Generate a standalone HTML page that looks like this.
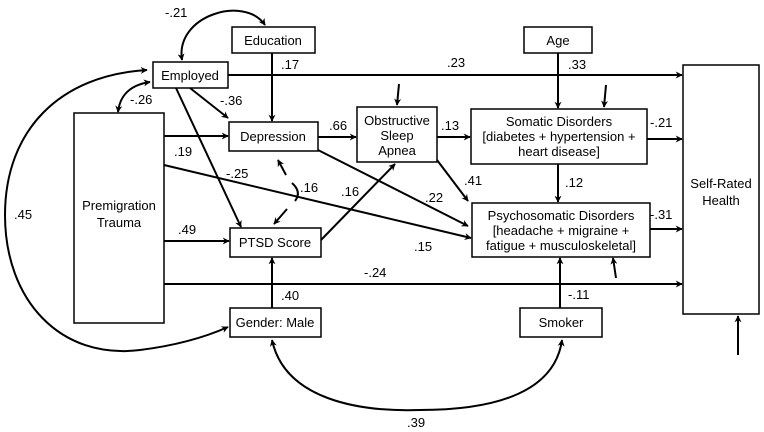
<!DOCTYPE html>
<html><head><meta charset="utf-8"><style>
html,body{margin:0;padding:0;background:#fff}
svg{display:block}
text{font-family:"Liberation Sans",Arial,sans-serif;font-size:13px;fill:#000}
</style></head><body>
<svg width="764" height="432" viewBox="0 0 764 432" xmlns="http://www.w3.org/2000/svg">
<defs>
<marker id="a" viewBox="0 0 10 10" refX="9" refY="5" markerWidth="7" markerHeight="7" orient="auto-start-reverse" markerUnits="userSpaceOnUse">
<path d="M0,0 L10,5 L0,10 L3,5 z" fill="#000"/></marker>
</defs>
<g fill="none" stroke="#000" stroke-width="2">
<!-- boxes -->
<rect x="232" y="27" width="83" height="26" stroke-width="1.5"/>
<rect x="153" y="62" width="75" height="26" stroke-width="1.5"/>
<rect x="524" y="27" width="68" height="26" stroke-width="1.5"/>
<rect x="74" y="113" width="90" height="210" stroke-width="1.5"/>
<rect x="229" y="122" width="89" height="29" stroke-width="1.5"/>
<rect x="357" y="107" width="80" height="55" stroke-width="1.5"/>
<rect x="471" y="109" width="176" height="55" stroke-width="1.5"/>
<rect x="472" y="203" width="178" height="54" stroke-width="1.5"/>
<rect x="230" y="228" width="91" height="29" stroke-width="1.5"/>
<rect x="230" y="308" width="91" height="29" stroke-width="1.5"/>
<rect x="520" y="308" width="82" height="29" stroke-width="1.5"/>
<rect x="683" y="65" width="76" height="249" stroke-width="1.5"/>
<!-- straight paths -->
<line x1="228" y1="75" x2="682" y2="75" marker-end="url(#a)"/>
<line x1="558" y1="53" x2="558" y2="108" marker-end="url(#a)"/>
<line x1="272" y1="53" x2="272" y2="121" marker-end="url(#a)"/>
<line x1="558" y1="164" x2="558" y2="202" marker-end="url(#a)"/>
<line x1="647" y1="139" x2="682" y2="139" marker-end="url(#a)"/>
<line x1="650" y1="229" x2="682" y2="229" marker-end="url(#a)"/>
<line x1="164" y1="284" x2="682" y2="284" marker-end="url(#a)"/>
<line x1="164" y1="136" x2="228" y2="136" marker-end="url(#a)"/>
<line x1="164" y1="241" x2="229" y2="241" marker-end="url(#a)"/>
<line x1="164" y1="165" x2="471" y2="238" marker-end="url(#a)"/>
<line x1="176" y1="88" x2="241" y2="227" marker-end="url(#a)"/>
<line x1="190" y1="88" x2="228" y2="118" marker-end="url(#a)"/>
<line x1="318" y1="137" x2="356" y2="137" marker-end="url(#a)"/>
<line x1="318" y1="150" x2="468" y2="226" marker-end="url(#a)"/>
<line x1="321" y1="240" x2="395" y2="164" marker-end="url(#a)"/>
<line x1="437" y1="137" x2="470" y2="137" marker-end="url(#a)"/>
<line x1="437" y1="160" x2="468" y2="201" marker-end="url(#a)"/>
<line x1="272" y1="308" x2="272" y2="258" marker-end="url(#a)"/>
<line x1="560" y1="308" x2="560" y2="258" marker-end="url(#a)"/>
<line x1="399" y1="84" x2="397" y2="105" marker-end="url(#a)"/>
<line x1="606" y1="85" x2="604" y2="107" marker-end="url(#a)"/>
<line x1="616" y1="278" x2="613" y2="258" marker-end="url(#a)"/>
<line x1="738" y1="355" x2="738" y2="316" marker-end="url(#a)"/>
<!-- curves -->
<path d="M286 175 L278 160" marker-end="url(#a)"/>
<path d="M292 183 Q302 192 295 201" />
<path d="M287 209 L274 224" marker-end="url(#a)"/>
<path d="M182 60 C175 15 245 -5 265 25" marker-start="url(#a)" marker-end="url(#a)"/>
<path d="M150 82 C130 85 120 95 118 112" marker-start="url(#a)" marker-end="url(#a)"/>
<path d="M147 70 C60 75 5 130 5 215 C5 300 60 360 140 350 C180 345 210 335 228 327" marker-start="url(#a)" marker-end="url(#a)"/>
<path d="M272 340 C285 400 360 412 420 410 C500 410 555 390 562 340" marker-start="url(#a)" marker-end="url(#a)"/>
</g>
<!-- box labels -->
<text x="273" y="45" text-anchor="middle">Education</text>
<text x="190" y="80" text-anchor="middle">Employed</text>
<text x="558" y="45" text-anchor="middle">Age</text>
<text x="119" y="210" text-anchor="middle">Premigration</text>
<text x="119" y="227" text-anchor="middle">Trauma</text>
<text x="273" y="141" text-anchor="middle">Depression</text>
<text x="397" y="125" text-anchor="middle">Obstructive</text>
<text x="397" y="140" text-anchor="middle">Sleep</text>
<text x="397" y="155" text-anchor="middle">Apnea</text>
<text x="559" y="126" text-anchor="middle">Somatic Disorders</text>
<text x="559" y="141" text-anchor="middle">[diabetes + hypertension +</text>
<text x="559" y="156" text-anchor="middle">heart disease]</text>
<text x="561" y="220" text-anchor="middle">Psychosomatic Disorders</text>
<text x="561" y="235" text-anchor="middle">[headache + migraine +</text>
<text x="561" y="250" text-anchor="middle">fatigue + musculoskeletal]</text>
<text x="275" y="247" text-anchor="middle">PTSD Score</text>
<text x="275" y="327" text-anchor="middle">Gender: Male</text>
<text x="561" y="327" text-anchor="middle">Smoker</text>
<text x="721" y="188" text-anchor="middle">Self-Rated</text>
<text x="721" y="205" text-anchor="middle">Health</text>
<!-- coefficients -->
<text x="165" y="17">-.21</text>
<text x="281" y="69">.17</text>
<text x="447" y="67">.23</text>
<text x="568" y="69">.33</text>
<text x="130" y="104">-.26</text>
<text x="220" y="105">-.36</text>
<text x="174" y="156">.19</text>
<text x="226" y="178">-.25</text>
<text x="329" y="130">.66</text>
<text x="300" y="192">.16</text>
<text x="341" y="196">.16</text>
<text x="441" y="130">.13</text>
<text x="650" y="127">-.21</text>
<text x="464" y="185">.41</text>
<text x="425" y="202">.22</text>
<text x="565" y="187">.12</text>
<text x="650" y="219">-.31</text>
<text x="14" y="219">.45</text>
<text x="178" y="234">.49</text>
<text x="414" y="251">.15</text>
<text x="364" y="277">-.24</text>
<text x="281" y="300">.40</text>
<text x="568" y="299">-.11</text>
<text x="407" y="427">.39</text>
</svg>
</body></html>
